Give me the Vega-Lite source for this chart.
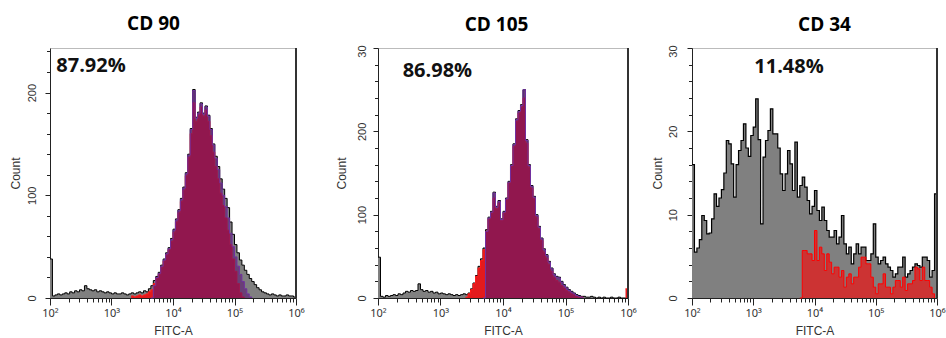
{
"$schema": "https://vega.github.io/schema/vega-lite/v6.json",
"background": "white",
"padding": {"left": 8, "top": 14, "right": 0, "bottom": 0},
"config": {
  "view": {"stroke": "#bbbbbb"},
  "axis": {"grid": false, "labelOverlap": false, "labelFont": "Liberation Sans", "titleFont": "Liberation Sans", "labelColor": "#333333", "titleColor": "#333333", "titleFontWeight": "normal", "domainColor": "#222222", "tickColor": "#222222", "labelFontSize": 11, "titleFontSize": 12},
  "title": {"font": "Open Sans", "fontSize": 19, "fontWeight": "bold", "color": "#000000"}
},
"datasets": {
"h": [
{"x":100,"g1":38,"g2":49,"g3":16},
{"x":109.6,"g1":2,"g2":2,"g3":5.5},
{"x":120.2,"g1":3,"g2":1,"g3":6},
{"x":131.8,"g1":4,"g2":3,"g3":7},
{"x":144.5,"g1":3,"g2":2,"g3":9.9},
{"x":158.5,"g1":4,"g2":3,"g3":9.3},
{"x":173.8,"g1":5,"g2":4,"g3":7.7},
{"x":190.5,"g1":4,"g2":3,"g3":7.8},
{"x":208.9,"g1":6,"g2":5,"g3":9.5},
{"x":229.1,"g1":5,"g2":4,"g3":12.5},
{"x":251.2,"g1":7,"g2":6,"g3":11},
{"x":275.4,"g1":6,"g2":8,"g3":12},
{"x":302,"g1":8,"g2":7,"g3":13},
{"x":331.1,"g1":7,"g2":9,"g3":15},
{"x":363.1,"g1":12,"g2":8,"g3":18.9},
{"x":398.1,"g1":9,"g2":9,"g3":18.5},
{"x":436.5,"g1":8,"g2":17,"g3":16.1},
{"x":478.6,"g1":7,"g2":10,"g3":12.1},
{"x":524.8,"g1":8,"g2":8,"g3":16},
{"x":575.4,"g1":6,"g2":9,"g3":17.7},
{"x":631,"g1":7,"g2":7,"g3":18.9},
{"x":691.8,"g1":6,"g2":8,"g3":20.9},
{"x":758.6,"g1":5,"g2":6,"g3":18},
{"x":831.8,"g1":6,"g2":7,"g3":17},
{"x":912,"g1":5,"g2":5,"g3":19.5},
{"x":1000,"g1":4,"g2":6,"g3":20.5},
{"x":1096,"g1":5,"g2":5,"g3":23.9},
{"x":1202,"g1":4,"g2":4,"g3":19},
{"x":1318,"g1":4,"g2":5,"g3":8.9},
{"x":1445,"g1":5,"g2":4,"g3":16.9},
{"x":1585,"g1":4,"g2":3,"g3":18.9},
{"x":1738,"g1":3,"g2":4,"g3":20.1},
{"x":1905,"g1":4,"g2":3,"g3":22.7},
{"x":2089,"g1":5,"r1":2,"g2":4,"g3":19.7},
{"x":2291,"g1":4,"r1":1,"g2":5,"g3":19.7},
{"x":2512,"g1":5,"r1":2,"g2":4,"r2":1,"g3":18},
{"x":2754,"g1":6,"r1":3,"g2":6,"r2":5,"g3":14.9},
{"x":3020,"g1":5,"r1":2,"g2":11,"r2":10,"g3":12.9},
{"x":3311,"g1":7,"r1":3,"g2":18,"r2":17,"g3":14.9},
{"x":3631,"g1":6,"r1":4,"g2":27,"r2":26,"g3":17.7},
{"x":3981,"g1":9,"r1":6,"g2":38,"r2":36,"g3":16.1},
{"x":4365,"g1":12,"r1":8,"v1":0,"g2":47,"r2":45,"g3":12.9},
{"x":4786,"g1":17,"r1":14,"v1":12,"g2":60,"r2":58,"v2":0,"g3":18.7},
{"x":5248,"g1":21,"r1":19,"v1":20,"g2":82,"r2":80,"v2":80,"g3":12.1},
{"x":5754,"g1":25,"r1":23,"v1":24,"g2":97,"r2":95,"v2":96,"g3":13.5,"r3":0},
{"x":6310,"g1":32,"r1":30,"v1":31,"g2":104,"r2":102,"v2":103,"g3":14.5,"r3":5.7},
{"x":6918,"g1":38,"r1":36,"v1":37,"g2":127,"r2":120,"v2":126,"g3":13.3,"r3":5.7},
{"x":7586,"g1":44,"r1":42,"v1":43,"g2":110,"r2":107,"v2":109,"g3":11.7,"r3":5.3},
{"x":8318,"g1":49,"r1":47,"v1":48,"g2":117,"r2":114,"v2":116,"g3":10.1,"r3":5.3},
{"x":9120,"g1":58,"r1":55,"v1":57,"g2":95,"r2":93,"v2":94,"g3":11,"r3":4.5},
{"x":10000,"g1":67,"r1":64,"v1":66,"g2":104,"r2":102,"v2":103,"g3":12.9,"r3":8.1},
{"x":10960,"g1":77,"r1":74,"v1":76,"g2":120,"r2":118,"v2":119,"g3":10.5,"r3":4.5},
{"x":12020,"g1":86,"r1":83,"v1":85,"g2":140,"r2":138,"v2":139,"g3":9.3,"r3":6.1},
{"x":13180,"g1":97,"r1":94,"v1":96,"g2":160,"r2":158,"v2":159,"g3":10.9,"r3":5.3},
{"x":14450,"g1":108,"r1":105,"v1":107,"g2":185,"r2":182,"v2":184,"g3":9.3,"r3":3.3},
{"x":15850,"g1":122,"r1":119,"v1":121,"g2":215,"r2":212,"v2":214,"g3":8.1,"r3":5.3},
{"x":17380,"g1":140,"r1":137,"v1":139,"g2":225,"r2":222,"v2":224,"g3":7.3,"r3":4.3},
{"x":19050,"g1":165,"r1":160,"v1":164,"g2":232,"r2":229,"v2":231,"g3":7.3,"r3":2.9},
{"x":20890,"g1":203,"r1":190,"v1":202,"g2":250,"r2":240,"v2":250,"g3":8.1,"r3":3.7},
{"x":22910,"g1":176,"r1":172,"v1":175,"g2":190,"r2":186,"v2":189,"g3":6.5,"r3":3.7},
{"x":25120,"g1":181,"r1":178,"v1":180,"g2":160,"r2":157,"v2":159,"g3":7.3,"r3":2.5},
{"x":27540,"g1":190,"r1":186,"v1":189,"g2":135,"r2":132,"v2":134,"g3":9.9,"r3":3.3},
{"x":30200,"g1":180,"r1":177,"v1":179,"g2":122,"r2":119,"v2":121,"g3":6.5,"r3":1.3},
{"x":33110,"g1":187,"r1":183,"v1":186,"g2":100,"r2":97,"v2":99,"g3":5.3,"r3":2.5},
{"x":36310,"g1":178,"r1":172,"v1":177,"g2":86,"r2":83,"v2":85,"g3":6.1,"r3":2.9},
{"x":39810,"g1":165,"r1":158,"v1":164,"g2":72,"r2":69,"v2":71,"g3":4.1,"r3":1.7},
{"x":43650,"g1":150,"r1":142,"v1":149,"g2":59,"r2":55,"v2":58,"g3":5.3,"r3":2.5},
{"x":47860,"g1":138,"r1":128,"v1":136,"g2":52,"r2":48,"v2":51,"g3":6.5,"r3":2.5},
{"x":52480,"g1":128,"r1":116,"v1":125,"g2":44,"r2":40,"v2":43,"g3":5.3,"r3":3.7},
{"x":57540,"g1":116,"r1":102,"v1":112,"g2":36,"r2":32,"v2":35,"g3":6.1,"r3":4.9},
{"x":63100,"g1":106,"r1":90,"v1":100,"g2":29,"r2":25,"v2":28,"g3":6.1,"r3":4.9},
{"x":69180,"g1":97,"r1":78,"v1":89,"g2":26,"r2":21,"v2":25,"g3":4.5,"r3":4.1},
{"x":75860,"g1":88,"r1":66,"v1":78,"g2":25,"r2":19,"v2":24,"g3":4.5,"r3":4.1},
{"x":83180,"g1":74,"r1":52,"v1":63,"g2":20,"r2":15,"v2":19,"g3":5.3,"r3":2.5},
{"x":91200,"g1":62,"r1":38,"v1":50,"g2":16,"r2":12,"v2":15,"g3":8.9,"r3":1.3},
{"x":100000,"g1":52,"r1":26,"v1":40,"g2":13,"r2":9,"v2":12,"g3":4.9,"r3":0.5},
{"x":109600,"g1":44,"r1":14,"v1":31,"g2":10,"r2":7,"v2":9,"g3":4.1,"r3":1.7},
{"x":120200,"g1":37,"r1":5,"v1":23,"g2":8,"r2":5,"v2":7,"g3":4.5,"r3":1.7},
{"x":131800,"g1":32,"r1":1,"v1":16,"g2":6,"r2":4,"v2":5,"g3":4.9,"r3":2.9},
{"x":144500,"g1":27,"r1":0,"v1":9,"g2":4,"r2":2,"v2":3,"g3":4.1,"r3":1.3},
{"x":158500,"g1":23,"v1":4,"g2":3,"r2":1,"v2":2,"g3":3.7,"r3":1.3},
{"x":173800,"g1":19,"v1":1,"g2":2,"r2":1,"v2":1,"g3":3.3,"r3":0.5},
{"x":190500,"g1":16,"v1":0,"g2":2,"r2":0,"v2":0,"g3":2.5,"r3":1.3},
{"x":208900,"g1":13,"g2":1,"g3":2.9,"r3":2.1},
{"x":229100,"g1":10,"g2":1,"g3":3.7,"r3":2.1},
{"x":251200,"g1":8,"g2":2,"g3":3.7,"r3":1.3},
{"x":275400,"g1":6,"g2":1,"g3":4.9,"r3":2.5},
{"x":302000,"g1":5,"g2":0,"g3":2.5,"r3":0.9},
{"x":331100,"g1":4,"g2":1,"g3":2.9,"r3":1.7},
{"x":363100,"g1":3,"g2":0,"g3":3.3,"r3":1.7},
{"x":398100,"g1":4,"g2":1,"g3":3.7,"r3":2.1},
{"x":436500,"g1":3,"g2":0,"g3":4.1,"r3":3.7},
{"x":478600,"g1":2,"g2":0,"g3":3.9,"r3":3.5},
{"x":524800,"g1":3,"g2":1,"g3":3.7,"r3":2.1},
{"x":575400,"g1":2,"g2":0,"g3":4.9,"r3":3.7},
{"x":631000,"g1":2,"g2":0,"g3":4.9,"r3":2.1},
{"x":691800,"g1":3,"g2":1,"g3":4.5,"r3":2.1},
{"x":758600,"g1":2,"g2":0,"g3":2.5,"r3":1.3},
{"x":831800,"g1":2,"g2":0,"g3":3.3,"r3":0.5},
{"x":912000,"g1":1,"g2":0,"r2":11,"g3":12.5,"r3":0},
{"x":1000000,"g1":1,"g2":0,"r2":11,"g3":12.5}
]
},
"hconcat": [
{
  "width": 246, "height": 250,
  "title": {"text": "CD 90", "anchor": "middle", "frame": "group", "dx": -19.5, "offset": -5, "baseline": "bottom"},
  "data": {"name": "h"},
  "transform": [{"fold": ["g1", "r1", "v1"], "as": ["s", "c"]}],
  "encoding": {
    "x": {"field": "x", "type": "quantitative", "title": "FITC-A", "scale": {"type": "log", "domain": [100, 1000000], "nice": false},
      "axis": {"values": [100,200,300,400,500,600,700,800,900,1000,2000,3000,4000,5000,6000,7000,8000,9000,10000,20000,30000,40000,50000,60000,70000,80000,90000,100000,200000,300000,400000,500000,600000,700000,800000,900000,1000000],
        "labelExpr": "datum.value == 100 ? '10²' : datum.value == 1000 ? '10³' : datum.value == 10000 ? '10⁴' : datum.value == 100000 ? '10⁵' : datum.value == 1000000 ? '10⁶' : ''",
        "tickSize": {"condition": {"test": "indexof([100,1000,10000,100000,1000000], datum.value) >= 0", "value": 7}, "value": 4},
        "labelFlush": false, "labelOverlap": false, "labelPadding": 2, "labelFont": "Noto Sans", "labelFontSize": 11, "titleFontSize": 12, "titlePadding": 7}},
    "y": {"field": "c", "type": "quantitative", "stack": null, "title": "Count", "scale": {"domain": [0, 243.4], "nice": false},
      "axis": {"values": [0,20,40,60,80,100,120,140,160,180,200,220,240], "labelExpr": "datum.value % 100 == 0 ? datum.label : ''",
        "tickSize": {"condition": {"test": "datum.value % 100 == 0", "value": 5}, "value": 3.5},
        "labelOverlap": false, "labelAngle": -90, "labelAlign": "center", "labelBaseline": "bottom", "labelPadding": 8, "labelFontSize": 11, "titleFontSize": 12, "minExtent": 24, "maxExtent": 24, "titlePadding": 4}}
  },
  "layer": [
    {"transform": [{"filter": "datum.s == 'g1'"}], "mark": {"type": "area", "interpolate": "step-after", "color": "#808080", "invalid": "break-paths-show-domains"}},
    {"transform": [{"filter": "datum.s == 'g1'"}], "mark": {"type": "line", "interpolate": "step-after", "color": "#000000", "strokeWidth": 1, "invalid": "break-paths-show-domains"}},
    {"transform": [{"filter": "datum.s == 'r1'"}], "mark": {"type": "area", "interpolate": "step-after", "color": "#e31a1c", "invalid": "break-paths-show-domains"}},
    {"transform": [{"filter": "datum.s == 'r1'"}], "mark": {"type": "line", "interpolate": "step-after", "color": "#ff1a1a", "strokeWidth": 1, "invalid": "break-paths-show-domains"}},
    {"transform": [{"filter": "datum.s == 'v1'"}], "mark": {"type": "area", "interpolate": "step-after", "color": "#5a1670", "fillOpacity": 0.6, "invalid": "break-paths-show-domains"}},
    {"transform": [{"filter": "datum.s == 'v1'"}], "mark": {"type": "line", "interpolate": "step-after", "color": "#7030a0", "strokeWidth": 1, "invalid": "break-paths-show-domains"}},
    {"data": {"values": [{"x": 126.6, "c": 225.8, "t": "87.92%"}]},
     "mark": {"type": "text", "align": "left", "baseline": "middle", "font": "Open Sans", "fontWeight": "bold", "fontSize": 20, "color": "#111111"},
     "encoding": {"text": {"field": "t"}}},
    {"mark": {"type": "rule", "color": "#333333", "strokeWidth": 1}, "encoding": {"x": {"datum": 1000000}, "y": {"datum": 0}, "y2": {"datum": 243.4}}}
  ]
},
{
  "bounds": "flush",
  "spacing": 64,
  "hconcat": [
  {
    "width": 250, "height": 250,
    "title": {"text": "CD 105", "anchor": "middle", "frame": "group", "dx": -6.5, "offset": -9.4, "baseline": "bottom"},
    "data": {"name": "h"},
    "transform": [{"fold": ["g2", "r2", "v2"], "as": ["s", "c"]}],
    "encoding": {
      "x": {"field": "x", "type": "quantitative", "title": "FITC-A", "scale": {"type": "log", "domain": [100, 1000000], "nice": false},
        "axis": {"values": [100,200,300,400,500,600,700,800,900,1000,2000,3000,4000,5000,6000,7000,8000,9000,10000,20000,30000,40000,50000,60000,70000,80000,90000,100000,200000,300000,400000,500000,600000,700000,800000,900000,1000000],
          "labelExpr": "datum.value == 100 ? '10²' : datum.value == 1000 ? '10³' : datum.value == 10000 ? '10⁴' : datum.value == 100000 ? '10⁵' : datum.value == 1000000 ? '10⁶' : ''",
          "tickSize": {"condition": {"test": "indexof([100,1000,10000,100000,1000000], datum.value) >= 0", "value": 7}, "value": 4},
          "labelFlush": false, "labelOverlap": false, "labelPadding": 2, "labelFont": "Noto Sans", "labelFontSize": 11, "titleFontSize": 12, "titlePadding": 7}},
      "y": {"field": "c", "type": "quantitative", "stack": null, "title": "Count", "scale": {"domain": [0, 300], "nice": false},
        "axis": {"values": [0,20,40,60,80,100,120,140,160,180,200,220,240,260,280,300], "labelExpr": "datum.value == 300 ? '30' : datum.value % 100 == 0 ? datum.label : ''",
          "tickSize": {"condition": {"test": "datum.value % 100 == 0", "value": 5}, "value": 3.5},
          "labelOffset": {"condition": {"test": "datum.value == 300", "value": 3}, "value": 0},
          "labelOverlap": false, "labelAngle": -90, "labelAlign": "center", "labelBaseline": "bottom", "labelPadding": 6, "labelFontSize": 11, "titleFontSize": 12, "minExtent": 24, "maxExtent": 24, "titlePadding": 6}}
    },
    "layer": [
      {"transform": [{"filter": "datum.s == 'g2'"}], "mark": {"type": "area", "interpolate": "step-after", "color": "#808080", "invalid": "break-paths-show-domains"}},
      {"transform": [{"filter": "datum.s == 'g2'"}], "mark": {"type": "line", "interpolate": "step-after", "color": "#000000", "strokeWidth": 1, "invalid": "break-paths-show-domains"}},
      {"transform": [{"filter": "datum.s == 'r2'"}], "mark": {"type": "area", "interpolate": "step-after", "color": "#e31a1c", "invalid": "break-paths-show-domains"}},
      {"transform": [{"filter": "datum.s == 'r2'"}], "mark": {"type": "line", "interpolate": "step-after", "color": "#ff1a1a", "strokeWidth": 1, "invalid": "break-paths-show-domains"}},
      {"transform": [{"filter": "datum.s == 'v2'"}], "mark": {"type": "area", "interpolate": "step-after", "color": "#5a1670", "fillOpacity": 0.6, "invalid": "break-paths-show-domains"}},
      {"transform": [{"filter": "datum.s == 'v2'"}], "mark": {"type": "line", "interpolate": "step-after", "color": "#7030a0", "strokeWidth": 1, "invalid": "break-paths-show-domains"}},
      {"data": {"values": [{"x": 248, "c": 272.3, "t": "86.98%"}]},
       "mark": {"type": "text", "align": "left", "baseline": "middle", "font": "Open Sans", "fontWeight": "bold", "fontSize": 20, "color": "#111111"},
       "encoding": {"text": {"field": "t"}}},
      {"mark": {"type": "rule", "color": "#333333", "strokeWidth": 1}, "encoding": {"x": {"datum": 1000000}, "y": {"datum": 0}, "y2": {"datum": 300}}}
    ]
  },
  {
    "width": 245, "height": 250,
    "title": {"text": "CD 34", "anchor": "middle", "frame": "group", "dx": 10, "offset": -9.3, "baseline": "bottom"},
    "data": {"name": "h"},
    "transform": [{"fold": ["g3", "r3"], "as": ["s", "c"]}],
    "encoding": {
      "x": {"field": "x", "type": "quantitative", "title": "FITC-A", "scale": {"type": "log", "domain": [100, 1000000], "nice": false},
        "axis": {"values": [100,200,300,400,500,600,700,800,900,1000,2000,3000,4000,5000,6000,7000,8000,9000,10000,20000,30000,40000,50000,60000,70000,80000,90000,100000,200000,300000,400000,500000,600000,700000,800000,900000,1000000],
          "labelExpr": "datum.value == 100 ? '10²' : datum.value == 1000 ? '10³' : datum.value == 10000 ? '10⁴' : datum.value == 100000 ? '10⁵' : datum.value == 1000000 ? '10⁶' : ''",
          "tickSize": {"condition": {"test": "indexof([100,1000,10000,100000,1000000], datum.value) >= 0", "value": 7}, "value": 4},
          "labelFlush": false, "labelOverlap": false, "labelPadding": 2, "labelFont": "Noto Sans", "labelFontSize": 11, "titleFontSize": 12, "titlePadding": 7}},
      "y": {"field": "c", "type": "quantitative", "stack": null, "title": "Count", "scale": {"domain": [0, 30], "nice": false},
        "axis": {"values": [0,2,4,6,8,10,12,14,16,18,20,22,24,26,28,30], "labelExpr": "datum.value % 10 == 0 ? datum.label : ''",
          "tickSize": {"condition": {"test": "datum.value % 10 == 0", "value": 5}, "value": 3.5},
          "labelOffset": {"condition": {"test": "datum.value == 30", "value": 3}, "value": 0},
          "labelOverlap": false, "labelAngle": -90, "labelAlign": "center", "labelBaseline": "bottom", "labelPadding": 8.5, "labelFontSize": 11, "titleFontSize": 12, "minExtent": 24, "maxExtent": 24, "titlePadding": 4}}
    },
    "layer": [
      {"transform": [{"filter": "datum.s == 'g3'"}], "mark": {"type": "area", "interpolate": "step-after", "color": "#808080", "invalid": "break-paths-show-domains"}},
      {"transform": [{"filter": "datum.s == 'g3'"}], "mark": {"type": "line", "interpolate": "step-after", "color": "#000000", "strokeWidth": 1.2, "invalid": "break-paths-show-domains"}},
      {"transform": [{"filter": "datum.s == 'r3'"}], "mark": {"type": "area", "interpolate": "step-after", "color": "#ff0000", "fillOpacity": 0.6, "invalid": "break-paths-show-domains"}},
      {"transform": [{"filter": "datum.s == 'r3'"}], "mark": {"type": "line", "interpolate": "step-after", "color": "#ff0000", "strokeWidth": 1, "invalid": "break-paths-show-domains"}},
      {"data": {"values": [{"x": 1040, "c": 27.75, "t": "11.48%"}]},
       "mark": {"type": "text", "align": "left", "baseline": "middle", "font": "Open Sans", "fontWeight": "bold", "fontSize": 20, "color": "#111111"},
       "encoding": {"text": {"field": "t"}}},
      {"mark": {"type": "rule", "color": "#333333", "strokeWidth": 1}, "encoding": {"x": {"datum": 1000000}, "y": {"datum": 0}, "y2": {"datum": 30}}}
    ]
  }
  ]
}
],
"spacing": 29
}
